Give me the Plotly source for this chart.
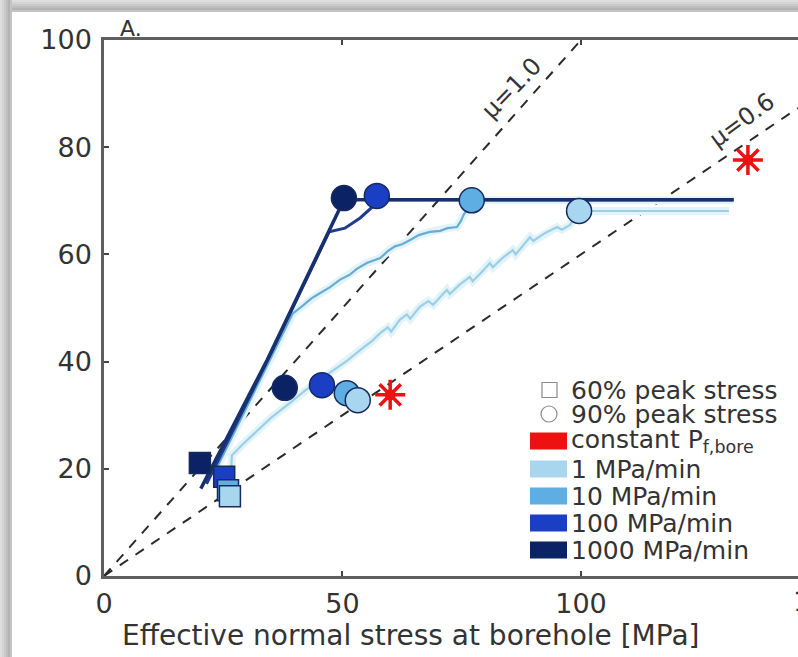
import plotly.graph_objects as go

# ---------------- data ----------------
rates = ["1 MPa/min", "10 MPa/min", "100 MPa/min", "1000 MPa/min"]

# 60% peak stress (squares), order: 1, 10, 100, 1000 MPa/min
sq60_x = [26.4, 26.0, 25.2, 20.1]
sq60_y = [14.9, 16.0, 18.5, 21.1]

# 90% peak stress (circles) - lower group and upper group
c90_low_x = [53.2, 50.9, 45.7, 37.9]
c90_low_y = [32.8, 34.1, 35.6, 35.1]
c90_high_x = [99.6, 77.1, 57.2, 50.3]
c90_high_y = [68.1, 70.1, 70.9, 70.5]

# constant borehole pressure (red asterisks)
const_pf_x = [60.0, 135.0]
const_pf_y = [33.8, 77.6]

# stress paths
curve_1_x = [26.5, 26.8, 29.0, 32.0, 35.0, 39.0, 42.0, 45.0, 48.0, 51.0, 53.5, 56.4, 57.9,
             59.5, 60.2, 62.0, 63.5, 64.2, 66.2, 68.0, 69.0, 71.9, 72.5, 74.5, 76.7, 77.3,
             79.5, 80.9, 81.5, 83.5, 85.7, 86.3, 88.0, 89.3, 90.0, 92.5, 95.0, 96.0, 97.7,
             98.6, 99.6, 131.0]
curve_1_y = [16.0, 22.5, 24.5, 27.0, 29.5, 32.3, 34.5, 36.5, 38.3, 40.2, 42.0, 44.0, 45.3,
             46.4, 45.6, 47.8, 48.8, 48.0, 50.2, 51.3, 50.6, 53.4, 52.6, 54.3, 55.8, 55.0,
             57.0, 58.4, 57.6, 59.3, 60.8, 60.0, 61.8, 63.2, 62.5, 64.0, 65.1, 64.6, 65.5,
             66.8, 68.1, 68.1]

curve_10_x = [23.0, 30.0, 35.0, 39.6, 41.5, 43.5, 45.0, 47.4, 49.5, 51.5, 53.0, 55.1, 57.9,
              59.5, 61.0, 62.5, 64.2, 66.0, 68.3, 70.5, 72.0, 74.0, 74.8, 75.4, 76.1, 77.1, 132.0]
curve_10_y = [19.0, 31.7, 40.8, 49.0, 50.3, 51.8, 52.6, 53.9, 55.3, 56.2, 57.3, 58.4, 59.3,
              60.6, 61.5, 61.9, 62.7, 63.6, 64.2, 64.4, 64.9, 65.1, 66.2, 67.4, 68.3, 70.1, 70.1]

curve_100_x = [21.5, 34.5, 47.2, 50.5, 53.7, 56.2, 57.2, 132.0]
curve_100_y = [17.2, 40.6, 64.2, 64.9, 66.8, 68.8, 70.2, 70.2]

curve_1000_x = [20.3, 34.2, 50.3, 132.0]
curve_1000_y = [16.3, 40.3, 70.2, 70.2]

# friction reference lines
mu_values = [1.0, 0.6]
mu_x_end = [100.0, 145.5]
mu_labels = ["μ=1.0", "μ=0.6"]

x_ticks = [0, 50, 100]
y_ticks = [0, 20, 40, 60, 80, 100]

# ---------------- styles ----------------
fill_colors = ["#a8d6ef", "#5eaee3", "#1a3fc4", "#0b2364"]
line_colors = ["#9ccfe6", "#68acd4", "#1f3a8f", "#17306e"]
edge = "#172a5e"
RED = "#ee1111"
FONT = "DejaVu Sans"
TXT = "#333333"

W, H = 798, 657
L, R, T, B = 104, 0, 40, 81
PW, PH = W - L - R, H - T - B
XMAX = 145.5


def px(xp):
    return (xp - L) / PW


def py(yp):
    return (H - B - yp) / PH


fig = go.Figure()

# dashed friction lines
for mu, xe in zip(mu_values, mu_x_end):
    fig.add_trace(go.Scatter(x=[0, xe], y=[0, mu * xe], mode="lines",
                             line=dict(color="#2a2a2a", width=2, dash="10px,9px"),
                             showlegend=False, hoverinfo="skip"))

# light halos
for cx, cy in [(curve_1_x, curve_1_y), (curve_10_x, curve_10_y)]:
    fig.add_trace(go.Scatter(x=cx, y=cy, mode="lines",
                             line=dict(color="#e2f3fa", width=8),
                             showlegend=False, hoverinfo="skip"))

curves = [(curve_1_x, curve_1_y, 2.2), (curve_10_x, curve_10_y, 2.2),
          (curve_100_x, curve_100_y, 3), (curve_1000_x, curve_1000_y, 3.5)]
for i, (cx, cy, w) in enumerate(curves):
    fig.add_trace(go.Scatter(x=cx, y=cy, mode="lines", name=rates[i],
                             line=dict(color=line_colors[i], width=w),
                             showlegend=False))

# markers: draw 1000 first, 1 last (on top)
for i in [3, 2, 1, 0]:
    fig.add_trace(go.Scatter(x=[sq60_x[i]], y=[sq60_y[i]], mode="markers",
                             marker=dict(symbol="square", size=21, color=fill_colors[i],
                                         line=dict(color=edge, width=1.5)),
                             showlegend=False))
for i in [3, 2, 1, 0]:
    fig.add_trace(go.Scatter(x=[c90_low_x[i], c90_high_x[i]], y=[c90_low_y[i], c90_high_y[i]],
                             mode="markers",
                             marker=dict(symbol="circle", size=25, color=fill_colors[i],
                                         line=dict(color=edge, width=1.5)),
                             showlegend=False))

# red asterisks (spiky burst)
fig.add_trace(go.Scatter(x=const_pf_x, y=const_pf_y, mode="markers",
                         marker=dict(symbol="circle", size=11, color=RED, line_width=0),
                         showlegend=False, hoverinfo="skip"))
fig.add_trace(go.Scatter(x=const_pf_x, y=const_pf_y, mode="markers",
                         marker=dict(symbol="asterisk-open", size=25, color=RED,
                                     line=dict(color=RED, width=3.5)),
                         showlegend=False))

# ---------------- layout ----------------
axis_common = dict(showline=True, linecolor="#5f5f5f", linewidth=2.5, ticks="inside",
                   ticklen=5, tickwidth=1.5, tickcolor="#444", showgrid=False, zeroline=False,
                   tickfont=dict(family=FONT, size=27, color=TXT))

fig.update_xaxes(range=[0, XMAX], tickvals=x_ticks, mirror="ticks",
                 ticklabelstandoff=2, **axis_common)
fig.update_yaxes(range=[0, 100], tickvals=y_ticks, mirror=False,
                 ticklabelstandoff=4, **axis_common)

shapes = []
# gray photo frame (left & top bands)
band_cols = ["#dedede", "#d4d4d4", "#cacaca", "#bebebe", "#b3b3b3", "#c4c4c4"]
for k, c in enumerate(band_cols):
    x0 = 2 * k
    shapes.append(dict(type="rect", xref="paper", yref="paper",
                       x0=px(x0), x1=px(x0 + 2), y0=py(H), y1=py(0),
                       fillcolor=c, line_width=0, layer="above"))
    shapes.append(dict(type="rect", xref="paper", yref="paper",
                       x0=px(x0), x1=px(W), y0=py(x0 + 2), y1=py(x0),
                       fillcolor=c, line_width=0, layer="above"))

annotations = []

# legend (manual)
leg_text_x = 569
rows_y = [390, 414, 441, 469, 496, 523, 550]
leg_labels = ["60% peak stress", "90% peak stress", "constant P<sub>f,bore</sub>"] + rates
shapes.append(dict(type="rect", xref="paper", yref="paper",
                   x0=px(542), x1=px(557), y0=py(rows_y[0] + 7.5), y1=py(rows_y[0] - 7.5),
                   line=dict(color="#8a8a8a", width=1.2), fillcolor="rgba(0,0,0,0)"))
shapes.append(dict(type="circle", xref="paper", yref="paper",
                   x0=px(541), x1=px(557), y0=py(rows_y[1] + 8), y1=py(rows_y[1] - 8),
                   line=dict(color="#8a8a8a", width=1.2), fillcolor="rgba(0,0,0,0)"))
swatch_cols = [RED] + fill_colors
for k, c in enumerate(swatch_cols):
    yc = rows_y[2 + k]
    shapes.append(dict(type="rect", xref="paper", yref="paper",
                       x0=px(530), x1=px(567), y0=py(yc + 8.5), y1=py(yc - 8.5),
                       fillcolor=c, line_width=0))
for k, t in enumerate(leg_labels):
    annotations.append(dict(xref="paper", yref="paper", x=px(leg_text_x), y=py(rows_y[k]),
                            text=t, showarrow=False, xanchor="left", yanchor="middle",
                            font=dict(family=FONT, size=25, color=TXT)))

# mu labels
annotations.append(dict(x=85.5, y=91.0, xref="x", yref="y", text=mu_labels[0],
                        showarrow=False, textangle=-46,
                        font=dict(family=FONT, size=24, color=TXT)))
annotations.append(dict(x=133.8, y=85.1, xref="x", yref="y", text=mu_labels[1],
                        showarrow=False, textangle=-36,
                        font=dict(family=FONT, size=24, color=TXT)))

# panel label
annotations.append(dict(xref="paper", yref="paper", x=px(118), y=py(28), text="A.",
                        showarrow=False, xanchor="left", yanchor="middle",
                        font=dict(family=FONT, size=22, color=TXT)))

# partially visible 150 tick label
annotations.append(dict(xref="paper", yref="paper", x=px(104 + 150 * PW / XMAX), y=py(601),
                        text="150", showarrow=False, xanchor="center", yanchor="middle",
                        font=dict(family=FONT, size=27, color=TXT)))

# x-axis title
annotations.append(dict(xref="paper", yref="paper", x=px(410), y=py(635),
                        text="Effective normal stress at borehole [MPa]", showarrow=False,
                        xanchor="center", yanchor="middle",
                        font=dict(family=FONT, size=28, color=TXT)))

fig.update_layout(width=W, height=H, margin=dict(l=L, r=R, t=T, b=B, pad=0),
                  paper_bgcolor="white", plot_bgcolor="white",
                  shapes=shapes, annotations=annotations, showlegend=False)

fig.write_html("out.html", config={"displayModeBar": False},
               post_script="document.body.style.margin='0';document.body.style.padding='0';")
